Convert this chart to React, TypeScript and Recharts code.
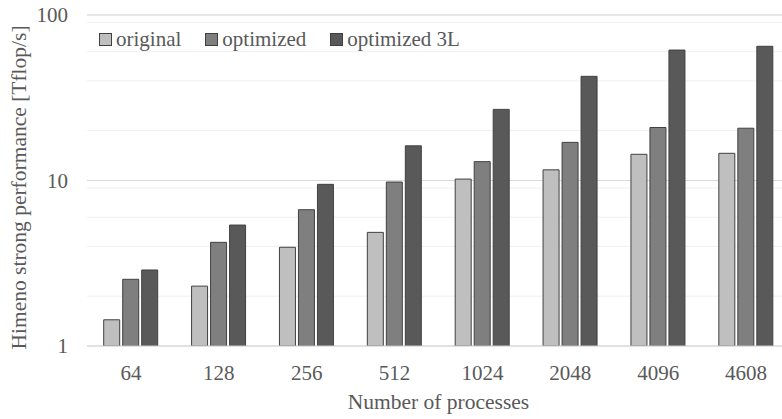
import React from "react";
import {
  Bar,
  BarChart,
  CartesianGrid,
  Legend,
  XAxis,
  YAxis,
} from "recharts";

const PROCESSES = ["64", "128", "256", "512", "1024", "2048", "4096", "4608"];
const ORIGINAL = [1.44, 2.3, 3.95, 4.86, 10.2, 11.6, 14.4, 14.6];
const OPTIMIZED = [2.53, 4.23, 6.66, 9.79, 13.0, 17.0, 20.9, 20.7];
const OPTIMIZED_3L = [2.88, 5.38, 9.48, 16.2, 26.9, 42.6, 61.4, 64.7];

const MAJOR_TICKS = [1, 10, 100];
const MINOR_TICKS = [2, 3, 4, 5, 6, 7, 8, 9, 20, 30, 40, 50, 60, 70, 80, 90];

const FONT = "'Liberation Serif', 'Times New Roman', serif";
const TEXT_COLOR = "#595959";
const OUTLINE = "#404040";

const SERIES = [
  { key: "original", name: "original", fill: "#bfbfbf" },
  { key: "optimized", name: "optimized", fill: "#7f7f7f" },
  { key: "optimized3L", name: "optimized 3L", fill: "#595959" },
];

const chartData = PROCESSES.map((label, i) => ({
  label,
  original: ORIGINAL[i],
  optimized: OPTIMIZED[i],
  optimized3L: OPTIMIZED_3L[i],
}));

function LegendContent({ payload }: any) {
  // keep series order (recharts sorts legend items by name)
  const items = SERIES.map((s) => (payload || []).find((p: any) => p.value === s.name)).filter(Boolean);
  return (
    <div style={{ display: "flex", alignItems: "center", fontFamily: FONT, fontSize: 21, color: TEXT_COLOR }}>
      {items.map((entry: any) => (
        <div key={entry.value} style={{ display: "flex", alignItems: "center", marginRight: 24 }}>
          <span
            style={{
              display: "inline-block",
              width: 11,
              height: 11,
              background: entry.color,
              border: `1px solid ${OUTLINE}`,
              marginRight: 4,
            }}
          />
          <span style={{ whiteSpace: "nowrap" }}>{entry.value}</span>
        </div>
      ))}
    </div>
  );
}

export default function App() {
  return (
    <div
      style={{
        position: "fixed",
        left: 0,
        top: 0,
        width: 782,
        height: 419,
        overflow: "hidden",
        background: "#fff",
      }}
    >
      <BarChart
        width={790}
        height={419}
        data={chartData}
        margin={{ top: 15, right: 0, left: 0, bottom: 0 }}
        barCategoryGap="19%"
        barGap={3}
      >
        <CartesianGrid yAxisId="minor" vertical={false} stroke="#f0f0f0" />
        <CartesianGrid yAxisId="main" vertical={false} stroke="#d9d9d9" />

        <XAxis
          dataKey="label"
          height={73}
          axisLine={{ stroke: "#d9d9d9" }}
          tickLine={false}
          tickSize={0}
          tickMargin={19}
          tick={{ fill: TEXT_COLOR, fontSize: 21, fontFamily: FONT }}
          label={{
            content: ({ viewBox }: any) => (
              <text
                x={viewBox.x + viewBox.width / 2}
                y={viewBox.y + viewBox.height - 10}
                textAnchor="middle"
                fill={TEXT_COLOR}
                fontSize={21.5}
                fontFamily={FONT}
              >
                Number of processes
              </text>
            ),
          }}
        />

        <YAxis
          yAxisId="minor"
          hide
          scale="log"
          domain={[1, 100]}
          allowDataOverflow
          ticks={MINOR_TICKS}
        />
        <YAxis
          yAxisId="main"
          scale="log"
          domain={[1, 100]}
          allowDataOverflow
          ticks={MAJOR_TICKS}
          width={87}
          axisLine={false}
          tickLine={false}
          tickSize={0}
          tickMargin={19}
          tick={{ fill: TEXT_COLOR, fontSize: 21, fontFamily: FONT }}
          label={{
            content: ({ viewBox }: any) => {
              const x = viewBox.x + 26;
              const y = viewBox.y + viewBox.height / 2 + 7;
              return (
                <text
                  x={x}
                  y={y}
                  transform={`rotate(-90 ${x} ${y})`}
                  textAnchor="middle"
                  fill={TEXT_COLOR}
                  fontSize={21.5}
                  fontFamily={FONT}
                >
                  Himeno strong performance [Tflop/s]
                </text>
              );
            },
          }}
        />

        <Legend
          layout="horizontal"
          align="center"
          verticalAlign="middle"
          wrapperStyle={{ top: 27, left: 99, width: "auto" }}
          content={<LegendContent />}
        />

        {SERIES.map((s) => (
          <Bar
            key={s.key}
            yAxisId="main"
            dataKey={s.key}
            name={s.name}
            fill={s.fill}
            stroke={OUTLINE}
            strokeWidth={1}
            isAnimationActive={false}
          />
        ))}
      </BarChart>
    </div>
  );
}
